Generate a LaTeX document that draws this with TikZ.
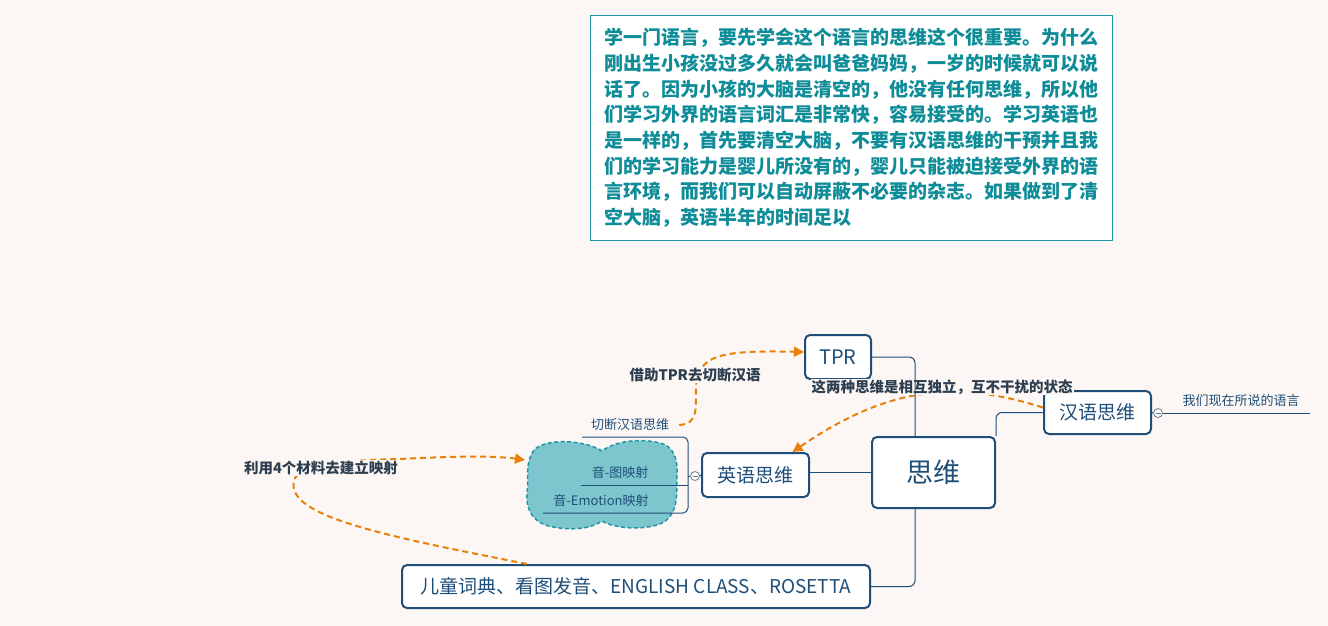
\documentclass[tikz,border=0pt]{standalone}
\usepackage{fontspec}
\usepackage{tikz}
\usetikzlibrary{arrows.meta}
\setmainfont{Noto Sans CJK SC}
\definecolor{bgc}{RGB}{252,247,244}
\definecolor{navy}{RGB}{31,78,121}
\definecolor{tealtx}{RGB}{14,140,152}
\definecolor{tealbox}{RGB}{26,150,165}
\definecolor{cloudc}{RGB}{125,198,205}
\definecolor{cloudl}{RGB}{30,150,165}
\definecolor{orng}{RGB}{232,128,10}
\definecolor{lbl}{RGB}{45,62,80}
\definecolor{foldc}{RGB}{110,125,145}
\tikzset{
    topic/.style={draw=navy, line width=2pt, rounded corners=5pt, fill=white,
    	text=navy, inner sep=0pt},
    conn/.style={draw=navy, line width=1pt},
    flow/.style={draw=orng, line width=2pt, dash pattern=on 6pt off 4pt,
    	-{Triangle[length=10pt,width=10pt]}},
    note/.style={text=lbl, font=\fontsize{14.5}{16}\selectfont\bfseries,
    	fill=bgc, inner sep=1pt},
    sub/.style={text=navy, font=\fontsize{13}{15}\selectfont, inner sep=2pt},
    fold/.style={circle, draw=foldc, fill=white, line width=0.8pt,
    	minimum size=9pt, inner sep=0pt, path picture={\draw[foldc, line width=0.8pt]
    	([xshift=2pt]path picture bounding box.west) --
    	([xshift=-2pt]path picture bounding box.east);}}
}

\begin{document}
\begin{tikzpicture}[x=1pt, y=-1pt]
	\fill[bgc] (0,0) rectangle (1328,626);
	\useasboundingbox (0,0) rectangle (1328,626);

	\node (para) [draw=tealbox, line width=1pt, fill=white, text=tealtx,
		font=\fontsize{19}{25.7}\selectfont\bfseries, text width=494pt, align=left,
		inner xsep=14pt, inner ysep=9pt, minimum height=224pt] at (851,128) {%
		学一门语言，要先学会这个语言的思维这个很重要。为什么\\
		刚出生小孩没过多久就会叫爸爸妈妈，一岁的时候就可以说\\
		话了。因为小孩的大脑是清空的，他没有任何思维，所以他\\
		们学习外界的语言词汇是非常快，容易接受的。学习英语也\\
		是一样的，首先要清空大脑，不要有汉语思维的干预并且我\\
		们的学习能力是婴儿所没有的，婴儿只能被迫接受外界的语\\
		言环境，而我们可以自动屏蔽不必要的杂志。如果做到了清\\
		空大脑，英语半年的时间足以};

	% cloud behind the sub topics
	\path[draw=cloudl, fill=cloudc, line width=1.5pt, dash pattern=on 4pt off 2.5pt]
		(602,451) .. controls (585,440) and (548,438) .. (535,449)
		.. controls (524,462) and (529,480) .. (527,495)
		.. controls (526,512) and (535,524) .. (553,527)
		.. controls (575,531) and (592,528) .. (602,521)
		.. controls (615,529) and (648,531) .. (664,522)
		.. controls (680,511) and (676,490) .. (677,475)
		.. controls (678,458) and (673,446) .. (660,443)
		.. controls (640,438) and (615,441) .. (602,451) -- cycle;

	\node (tpr) [topic, minimum width=66pt, minimum height=44pt,
		font=\fontsize{20}{22}\selectfont] at (838,357) {TPR};
	\node (siwei) [topic, minimum width=123pt, minimum height=71pt,
		font=\fontsize{27}{30}\selectfont] at (933.5,472.5) {思维};
	\node (hanyu) [topic, minimum width=107pt, minimum height=43pt,
		font=\fontsize{19}{22}\selectfont] at (1097.5,412.5) {汉语思维};
	\node (yingyu) [topic, minimum width=107pt, minimum height=44pt,
		font=\fontsize{19}{22}\selectfont] at (755.5,475) {英语思维};
	\node (kid) [topic, minimum width=468pt, minimum height=43pt,
		font=\fontsize{19}{22}\selectfont] at (636,586.5)
		{儿童词典、看图发音、ENGLISH CLASS、ROSETTA};

	\node (fold1) [fold] at (1158,413) {};
	\node (fold2) [fold] at (695,476) {};
	\node (lang) [sub] at (1241,401) {我们现在所说的语言};
	\node (qd) [sub] at (630,425) {切断汉语思维};
	\node (tu) [sub] at (620,473) {音-图映射};
	\node (emo) [sub] at (601,501) {音-Emotion映射};
	\coordinate (h1) at (1310,413);
	\coordinate (b1) at (582,437);
	\coordinate (b2) at (581,485);
	\coordinate (b3) at (543,513);
	\coordinate (brk) at (688,476);
	\coordinate (cloudw) at (525,460);

	\draw[conn, rounded corners=6pt] ([xshift=-18.5pt]siwei.south) |- (kid.east);
	\draw[conn, rounded corners=6pt] (siwei.north east) |- (hanyu.west);
	\draw[conn] (siwei.west) -- (siwei.west -| yingyu.east);
	\draw[conn] (hanyu.east) -- (fold1.west); \draw[conn] (fold1.east) -- (h1);
	\draw[conn] (fold2.east) -- (yingyu.west); \draw[conn] (brk) -- (fold2.west);
	\draw[conn, rounded corners=5pt] (b1) -| (brk) |- (b3);
	\draw[conn] (b2) -- (b2 -| brk);

	\draw[flow] ([xshift=8pt]qd.east) .. controls (700,424) and (695,405) .. (696,388)
		.. controls (697,355) and (720,350) .. ([yshift=5pt]tpr.west);
	\draw[flow] ([yshift=5pt]hanyu.west) .. controls (970,385) and (900,378)
		.. ([xshift=37pt]yingyu.north);
	\draw[flow] ([xshift=-109pt]kid.north) .. controls (380,535) and (280,515) .. (295,478)
		.. controls (305,462) and (360,460) .. (400,459)
		.. controls (440,457) and (490,455) .. (cloudw);

	\node (viatpr) [note] at (695,375) {借助TPR去切断汉语};
	\node (indep) [note] at (942,387) {这两种思维是相互独立，互不干扰的状态};
	\node (build) [note] at (321,468) {利用4个材料去建立映射};

	\draw[conn, rounded corners=6pt] (tpr.east) -| ([xshift=-18.5pt]siwei.north);
\end{tikzpicture}
\end{document}
